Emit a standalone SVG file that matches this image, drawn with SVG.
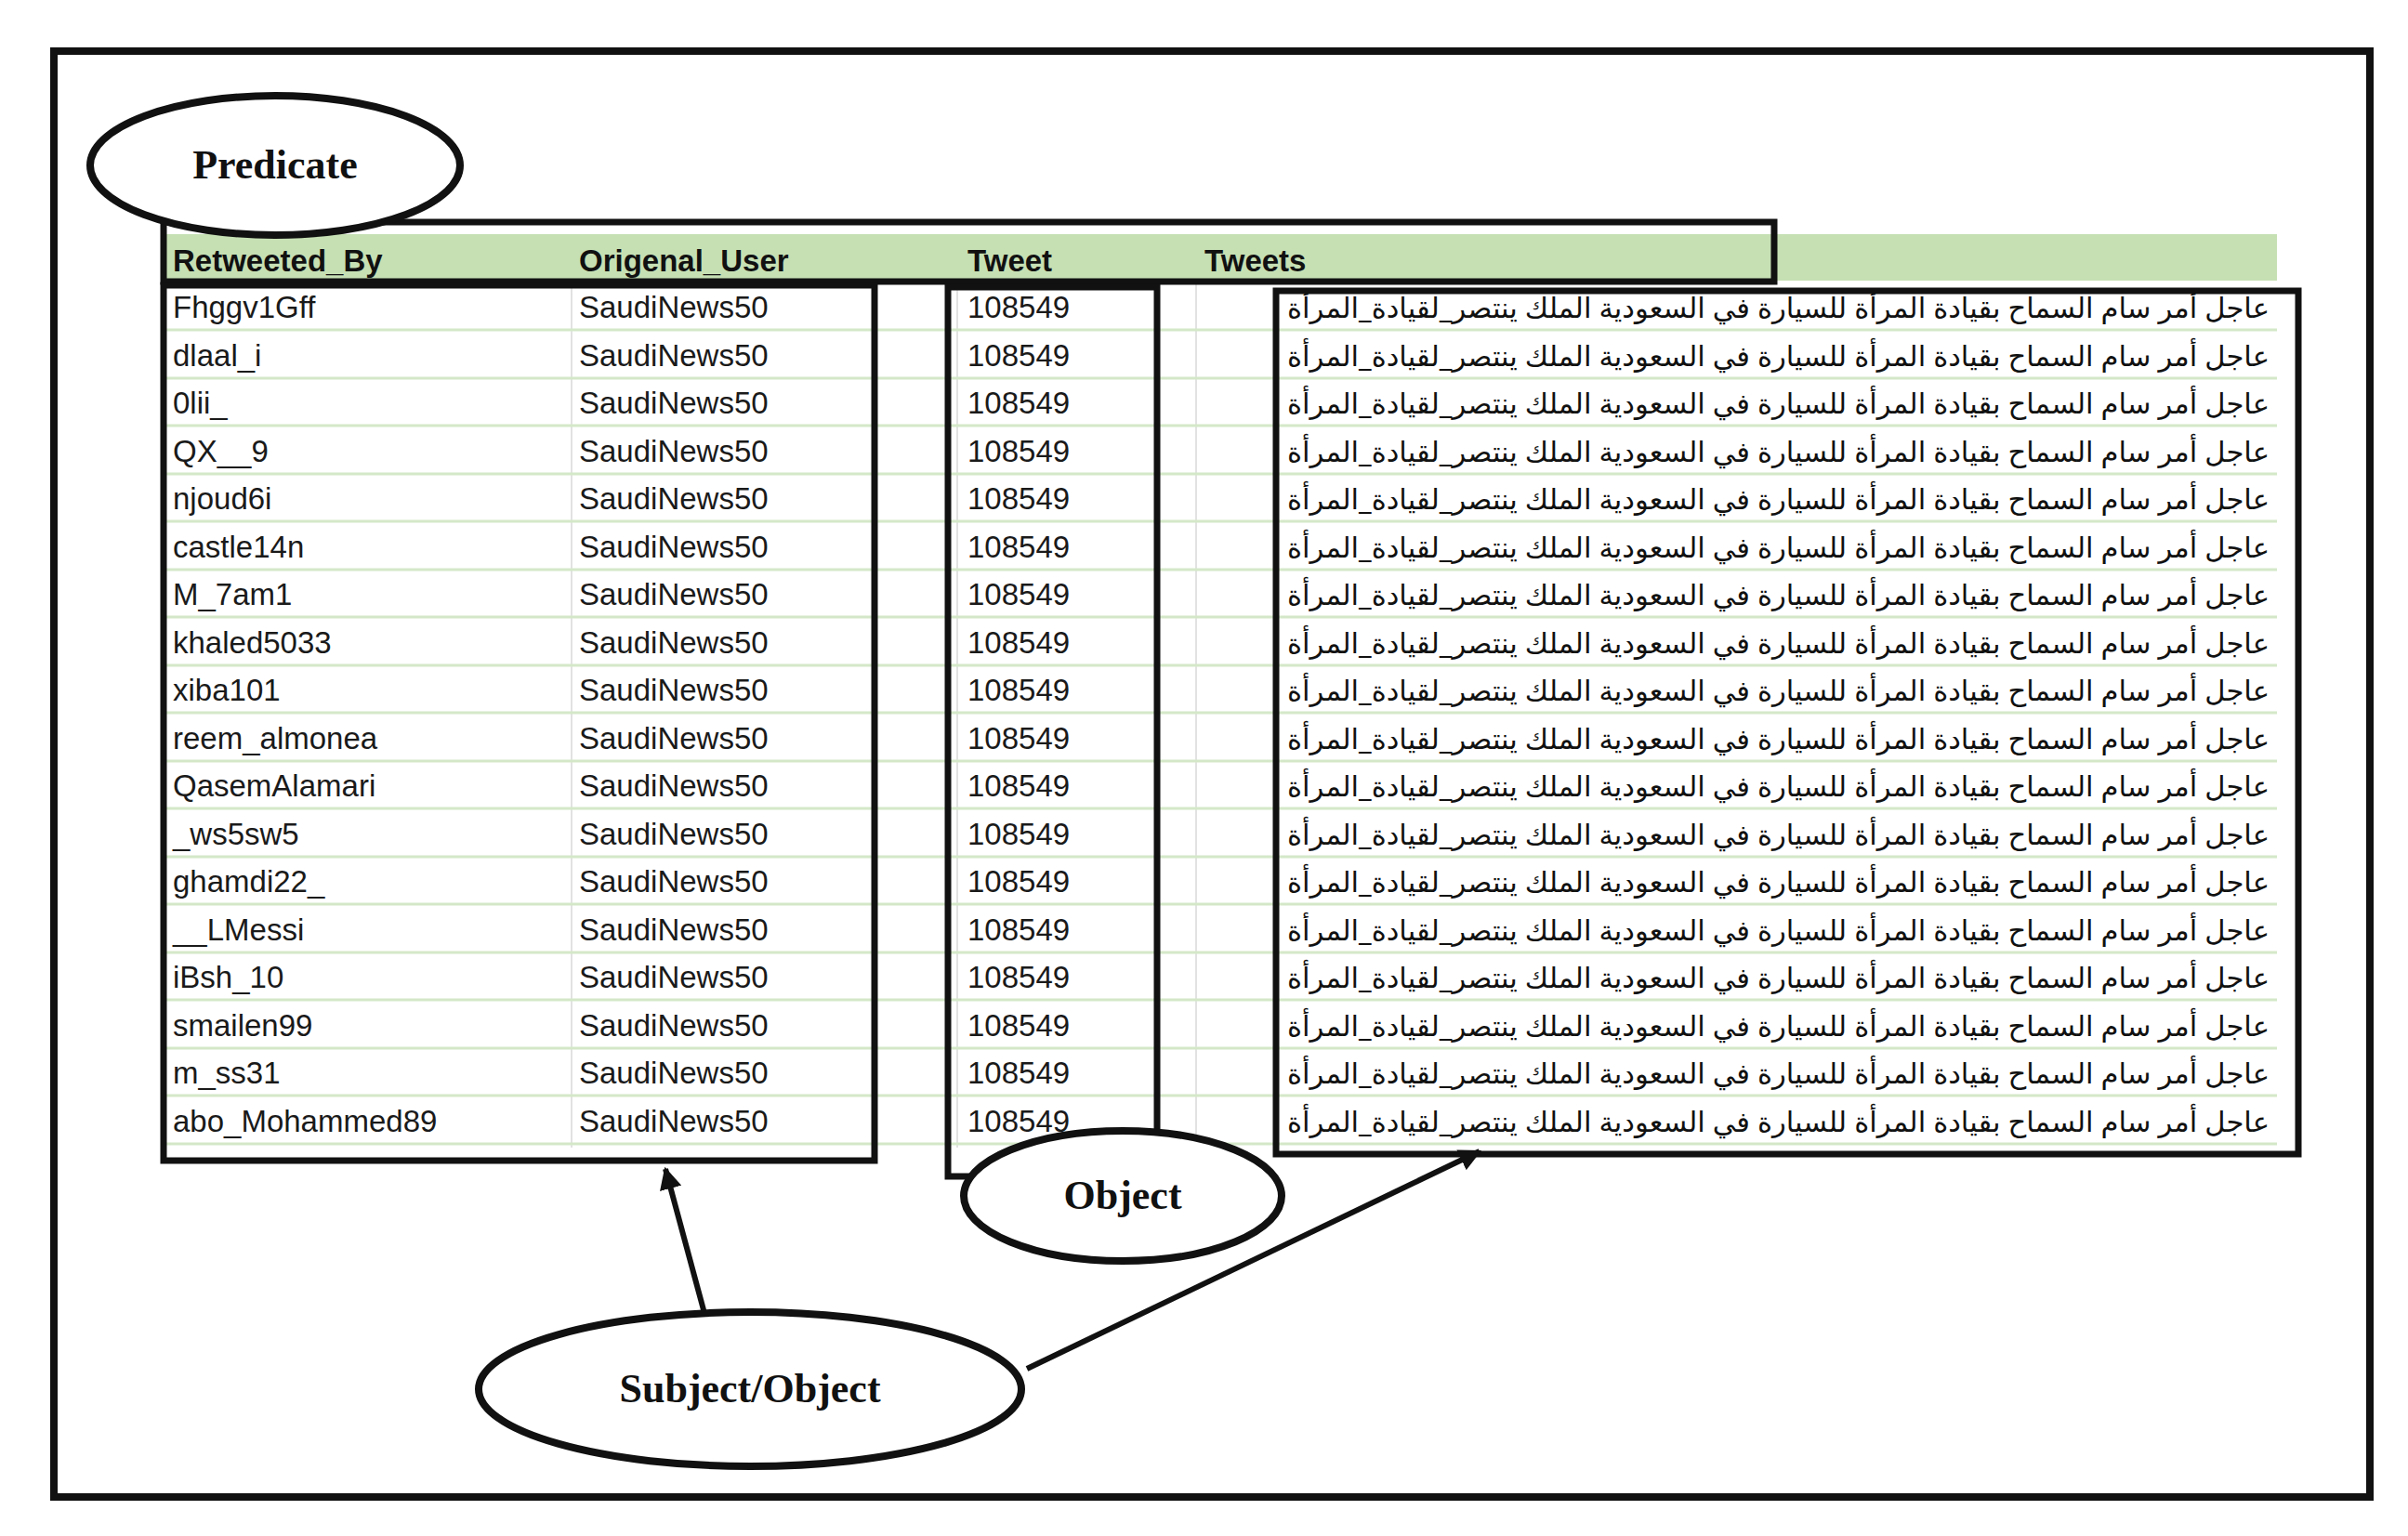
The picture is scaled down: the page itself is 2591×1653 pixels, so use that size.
<svg xmlns="http://www.w3.org/2000/svg" width="2591" height="1653" viewBox="0 0 2591 1653">
<defs>
<style>
.d{font-family:"Liberation Sans","DejaVu Sans",sans-serif;font-size:33px;fill:#1a1a1a}
.h{font-family:"Liberation Sans","DejaVu Sans",sans-serif;font-size:33px;font-weight:bold;fill:#111}
.ar{font-family:"Noto Sans","DejaVu Sans",sans-serif;font-size:30px;fill:#111}
.lbl{font-family:"Liberation Serif","Times New Roman",serif;font-size:44px;font-weight:bold;fill:#111;text-anchor:middle}
.box{fill:none;stroke:#111;stroke-width:7}
.ell{fill:#fff;stroke:#111;stroke-width:8}
.rl{stroke:#d4e8c8;stroke-width:3}
.cl{stroke:#e2e2e2;stroke-width:2}
</style>
<marker id="ah" viewBox="0 0 10 10" refX="9" refY="5" markerWidth="4" markerHeight="4" orient="auto"><path d="M0,0 L10,5 L0,10 z" fill="#111"/></marker>
</defs>
<rect x="0" y="0" width="2591" height="1653" fill="#fff"/>
<rect x="58" y="55" width="2492" height="1556" fill="none" stroke="#111" stroke-width="8"/>
<g id="table">
<rect x="179" y="252" width="2271" height="50" fill="#c6e0b4"/>
<text class="h" x="186" y="292">Retweeted_By</text>
<text class="h" x="623" y="292">Origenal_User</text>
<text class="h" x="1041" y="292">Tweet</text>
<text class="h" x="1296" y="292">Tweets</text>
<g id="lines">
<line class="cl" x1="615" y1="304" x2="615" y2="1235"/>
<line class="cl" x1="1030" y1="304" x2="1030" y2="1235"/>
<line class="cl" x1="1287" y1="304" x2="1287" y2="1235"/>
<line class="rl" x1="179" y1="355" x2="2450" y2="355"/><line class="rl" x1="179" y1="407" x2="2450" y2="407"/><line class="rl" x1="179" y1="458" x2="2450" y2="458"/><line class="rl" x1="179" y1="510" x2="2450" y2="510"/><line class="rl" x1="179" y1="561" x2="2450" y2="561"/><line class="rl" x1="179" y1="613" x2="2450" y2="613"/><line class="rl" x1="179" y1="664" x2="2450" y2="664"/><line class="rl" x1="179" y1="716" x2="2450" y2="716"/><line class="rl" x1="179" y1="767" x2="2450" y2="767"/><line class="rl" x1="179" y1="819" x2="2450" y2="819"/><line class="rl" x1="179" y1="870" x2="2450" y2="870"/><line class="rl" x1="179" y1="922" x2="2450" y2="922"/><line class="rl" x1="179" y1="973" x2="2450" y2="973"/><line class="rl" x1="179" y1="1025" x2="2450" y2="1025"/><line class="rl" x1="179" y1="1076" x2="2450" y2="1076"/><line class="rl" x1="179" y1="1128" x2="2450" y2="1128"/><line class="rl" x1="179" y1="1179" x2="2450" y2="1179"/><line class="rl" x1="179" y1="1231" x2="2450" y2="1231"/>
</g>
<g class="d">
<text x="186" y="342">Fhggv1Gff</text><text x="186" y="394">dlaal_i</text><text x="186" y="445">0lii_</text><text x="186" y="497">QX__9</text><text x="186" y="548">njoud6i</text><text x="186" y="600">castle14n</text><text x="186" y="651">M_7am1</text><text x="186" y="703">khaled5033</text><text x="186" y="754">xiba101</text><text x="186" y="806">reem_almonea</text><text x="186" y="857">QasemAlamari</text><text x="186" y="909">_ws5sw5</text><text x="186" y="960">ghamdi22_</text><text x="186" y="1012">__LMessi</text><text x="186" y="1063">iBsh_10</text><text x="186" y="1115">smailen99</text><text x="186" y="1166">m_ss31</text><text x="186" y="1218">abo_Mohammed89</text>
</g>
<g class="d">
<text x="623" y="342">SaudiNews50</text><text x="623" y="394">SaudiNews50</text><text x="623" y="445">SaudiNews50</text><text x="623" y="497">SaudiNews50</text><text x="623" y="548">SaudiNews50</text><text x="623" y="600">SaudiNews50</text><text x="623" y="651">SaudiNews50</text><text x="623" y="703">SaudiNews50</text><text x="623" y="754">SaudiNews50</text><text x="623" y="806">SaudiNews50</text><text x="623" y="857">SaudiNews50</text><text x="623" y="909">SaudiNews50</text><text x="623" y="960">SaudiNews50</text><text x="623" y="1012">SaudiNews50</text><text x="623" y="1063">SaudiNews50</text><text x="623" y="1115">SaudiNews50</text><text x="623" y="1166">SaudiNews50</text><text x="623" y="1218">SaudiNews50</text>
</g>
<g class="d">
<text x="1041" y="342">108549</text><text x="1041" y="394">108549</text><text x="1041" y="445">108549</text><text x="1041" y="497">108549</text><text x="1041" y="548">108549</text><text x="1041" y="600">108549</text><text x="1041" y="651">108549</text><text x="1041" y="703">108549</text><text x="1041" y="754">108549</text><text x="1041" y="806">108549</text><text x="1041" y="857">108549</text><text x="1041" y="909">108549</text><text x="1041" y="960">108549</text><text x="1041" y="1012">108549</text><text x="1041" y="1063">108549</text><text x="1041" y="1115">108549</text><text x="1041" y="1166">108549</text><text x="1041" y="1218">108549</text>
</g>
<g class="ar">
<text x="1385" y="342" textLength="1057" lengthAdjust="spacingAndGlyphs">عاجل أمر سام  السماح بقيادة المرأة للسيارة في السعودية الملك ينتصر_لقيادة_المرأة</text>
<text x="1385" y="394" textLength="1057" lengthAdjust="spacingAndGlyphs">عاجل أمر سام  السماح بقيادة المرأة للسيارة في السعودية الملك ينتصر_لقيادة_المرأة</text>
<text x="1385" y="445" textLength="1057" lengthAdjust="spacingAndGlyphs">عاجل أمر سام  السماح بقيادة المرأة للسيارة في السعودية الملك ينتصر_لقيادة_المرأة</text>
<text x="1385" y="497" textLength="1057" lengthAdjust="spacingAndGlyphs">عاجل أمر سام  السماح بقيادة المرأة للسيارة في السعودية الملك ينتصر_لقيادة_المرأة</text>
<text x="1385" y="548" textLength="1057" lengthAdjust="spacingAndGlyphs">عاجل أمر سام  السماح بقيادة المرأة للسيارة في السعودية الملك ينتصر_لقيادة_المرأة</text>
<text x="1385" y="600" textLength="1057" lengthAdjust="spacingAndGlyphs">عاجل أمر سام  السماح بقيادة المرأة للسيارة في السعودية الملك ينتصر_لقيادة_المرأة</text>
<text x="1385" y="651" textLength="1057" lengthAdjust="spacingAndGlyphs">عاجل أمر سام  السماح بقيادة المرأة للسيارة في السعودية الملك ينتصر_لقيادة_المرأة</text>
<text x="1385" y="703" textLength="1057" lengthAdjust="spacingAndGlyphs">عاجل أمر سام  السماح بقيادة المرأة للسيارة في السعودية الملك ينتصر_لقيادة_المرأة</text>
<text x="1385" y="754" textLength="1057" lengthAdjust="spacingAndGlyphs">عاجل أمر سام  السماح بقيادة المرأة للسيارة في السعودية الملك ينتصر_لقيادة_المرأة</text>
<text x="1385" y="806" textLength="1057" lengthAdjust="spacingAndGlyphs">عاجل أمر سام  السماح بقيادة المرأة للسيارة في السعودية الملك ينتصر_لقيادة_المرأة</text>
<text x="1385" y="857" textLength="1057" lengthAdjust="spacingAndGlyphs">عاجل أمر سام  السماح بقيادة المرأة للسيارة في السعودية الملك ينتصر_لقيادة_المرأة</text>
<text x="1385" y="909" textLength="1057" lengthAdjust="spacingAndGlyphs">عاجل أمر سام  السماح بقيادة المرأة للسيارة في السعودية الملك ينتصر_لقيادة_المرأة</text>
<text x="1385" y="960" textLength="1057" lengthAdjust="spacingAndGlyphs">عاجل أمر سام  السماح بقيادة المرأة للسيارة في السعودية الملك ينتصر_لقيادة_المرأة</text>
<text x="1385" y="1012" textLength="1057" lengthAdjust="spacingAndGlyphs">عاجل أمر سام  السماح بقيادة المرأة للسيارة في السعودية الملك ينتصر_لقيادة_المرأة</text>
<text x="1385" y="1063" textLength="1057" lengthAdjust="spacingAndGlyphs">عاجل أمر سام  السماح بقيادة المرأة للسيارة في السعودية الملك ينتصر_لقيادة_المرأة</text>
<text x="1385" y="1115" textLength="1057" lengthAdjust="spacingAndGlyphs">عاجل أمر سام  السماح بقيادة المرأة للسيارة في السعودية الملك ينتصر_لقيادة_المرأة</text>
<text x="1385" y="1166" textLength="1057" lengthAdjust="spacingAndGlyphs">عاجل أمر سام  السماح بقيادة المرأة للسيارة في السعودية الملك ينتصر_لقيادة_المرأة</text>
<text x="1385" y="1218" textLength="1057" lengthAdjust="spacingAndGlyphs">عاجل أمر سام  السماح بقيادة المرأة للسيارة في السعودية الملك ينتصر_لقيادة_المرأة</text>
</g>
</g>
<g id="boxes">
<rect class="box" x="176" y="239" width="1733" height="64"/>
<rect class="box" x="176" y="307" width="765" height="942"/>
<rect class="box" x="1020" y="309" width="225" height="957"/>
<rect class="box" x="1373" y="313" width="1100" height="929"/>
</g>
<g id="connectors">
<line x1="759" y1="1417" x2="716" y2="1258" stroke="#111" stroke-width="6" marker-end="url(#ah)"/>
<line x1="1105" y1="1473" x2="1592" y2="1239" stroke="#111" stroke-width="6" marker-end="url(#ah)"/>
</g>
<g id="predicate"><ellipse class="ell" cx="296" cy="178" rx="199" ry="75"/><text class="lbl" x="296" y="192">Predicate</text></g>
<g id="object"><ellipse class="ell" cx="1208" cy="1287" rx="171" ry="70"/><text class="lbl" x="1208" y="1301">Object</text></g>
<g id="subjectobject"><ellipse class="ell" cx="807" cy="1495" rx="292" ry="83"/><text class="lbl" x="807" y="1509">Subject/Object</text></g>
</svg>
